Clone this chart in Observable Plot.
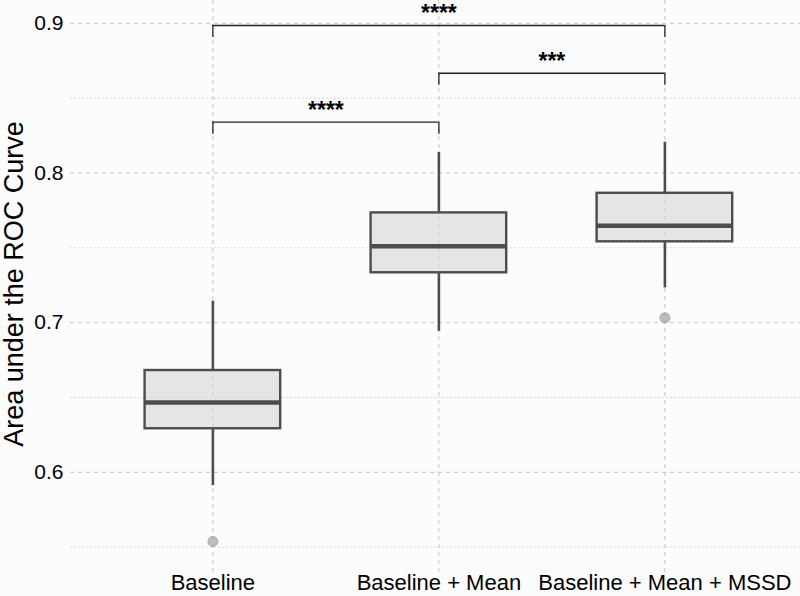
<!DOCTYPE html>
<html>
<head>
<meta charset="utf-8">
<script src="https://cdn.jsdelivr.net/npm/d3@7"></script>
<script src="https://cdn.jsdelivr.net/npm/@observablehq/plot@0.6"></script>
<style>
html, body { margin: 0; padding: 0; background: #fcfcfc; }
#chart svg { display: block; }
</style>
</head>
<body>
<div id="chart"></div>
<script>
// ---- data ----
const categories = ["Baseline", "Baseline + Mean", "Baseline + Mean + MSSD"];
const whiskerLow  = [0.5911, 0.6942, 0.7232];
const q1          = [0.6291, 0.7333, 0.7540];
const median      = [0.6466, 0.7510, 0.7647];
const q3          = [0.6680, 0.7733, 0.7864];
const whiskerHigh = [0.7143, 0.8138, 0.8205];

const outlierCategory = ["Baseline", "Baseline + Mean + MSSD"];
const outlierValue    = [0.5538, 0.7032];

const bracketFrom  = ["Baseline", "Baseline + Mean", "Baseline"];
const bracketTo    = ["Baseline + Mean", "Baseline + Mean + MSSD", "Baseline + Mean + MSSD"];
const bracketY     = [0.8339, 0.8666, 0.8985];
const bracketLabel = ["****", "***", "****"];
const bracketTick  = 0.008;

const majorTicks = [0.6, 0.7, 0.8, 0.9];
const minorTicks = [0.55, 0.65, 0.75, 0.85];
const yTitle = "Area under the ROC Curve";

// ---- derived tables ----
const pos = c => categories.indexOf(c) + 1;
const boxes = categories.map((c, i) => ({
  c, p: i + 1, lo: whiskerLow[i], q1: q1[i], med: median[i], q3: q3[i], hi: whiskerHigh[i]
}));
const outliers = outlierCategory.map((c, i) => ({ p: pos(c), v: outlierValue[i] }));
const brackets = bracketFrom.map((f, i) => ({
  a: pos(f), b: pos(bracketTo[i]), y: bracketY[i], label: bracketLabel[i]
}));
const bracketEnds = brackets.flatMap(d => [{ x: d.a, y: d.y }, { x: d.b, y: d.y }]);
const halfWidth = 0.3;
const boxColor = "#4d4d4d";

const chart = Plot.plot({
  width: 800,
  height: 596,
  marginLeft: 70,
  marginRight: 0,
  marginTop: 0,
  marginBottom: 23,
  style: { fontFamily: "'Liberation Sans', Arial, Helvetica, sans-serif", background: "#fcfcfc", color: "#111" },
  x: { domain: [0.37, 3.6] },
  y: { domain: [0.5324, 0.9152] },
  marks: [
    Plot.gridY(minorTicks, { stroke: "#cfcfcf", strokeOpacity: 1, strokeWidth: 0.8, strokeDasharray: "2,2" }),
    Plot.gridY(majorTicks, { stroke: "#c4c4c4", strokeOpacity: 1, strokeWidth: 1, strokeDasharray: "4,4" }),
    Plot.gridX([1, 2, 3], { stroke: "#c4c4c4", strokeOpacity: 1, strokeWidth: 1, strokeDasharray: "4,4" }),
    // whiskers
    Plot.ruleX(boxes, { x: "p", y1: "q3", y2: "hi", stroke: boxColor, strokeWidth: 2.6 }),
    Plot.ruleX(boxes, { x: "p", y1: "lo", y2: "q1", stroke: boxColor, strokeWidth: 2.6 }),
    // boxes
    Plot.rect(boxes, {
      x1: d => d.p - halfWidth, x2: d => d.p + halfWidth, y1: "q1", y2: "q3",
      fill: "#d6d6d6", fillOpacity: 0.6, stroke: boxColor, strokeWidth: 2.4
    }),
    // medians
    Plot.ruleY(boxes, { x1: d => d.p - halfWidth, x2: d => d.p + halfWidth, y: "med", stroke: boxColor, strokeWidth: 4.5 }),
    // outliers
    Plot.dot(outliers, { x: "p", y: "v", r: 5, fill: "#a8a8a8", fillOpacity: 0.75, stroke: "#8c8c8c", strokeOpacity: 0.6, strokeWidth: 1 }),
    // significance brackets
    Plot.ruleY(brackets, { x1: "a", x2: "b", y: "y", stroke: "#222", strokeWidth: 1.3 }),
    Plot.ruleX(bracketEnds, { x: "x", y1: d => d.y - bracketTick, y2: "y", stroke: "#222", strokeWidth: 1.3 }),
    Plot.text(brackets, { x: d => (d.a + d.b) / 2, y: "y", text: "label", fontSize: 23, fontWeight: "bold", lineAnchor: "bottom", dy: -4, fill: "#000" }),
    // axes
    Plot.axisX([1, 2, 3], { tickFormat: d => categories[d - 1], tickSize: 0, tickPadding: 1, fontSize: 22, label: null, fill: "#000" }),
    Plot.axisY(majorTicks, { tickFormat: d => d.toFixed(1), tickSize: 0, tickPadding: 7, fontSize: 21, label: null, fill: "#000" }),
    Plot.text([yTitle], { frameAnchor: "left", textAnchor: "middle", lineAnchor: "middle", rotate: -90, dx: -56, dy: -3, fontSize: 27, text: d => d, fill: "#000" })
  ]
});

document.getElementById("chart").appendChild(chart);
</script>
</body>
</html>
